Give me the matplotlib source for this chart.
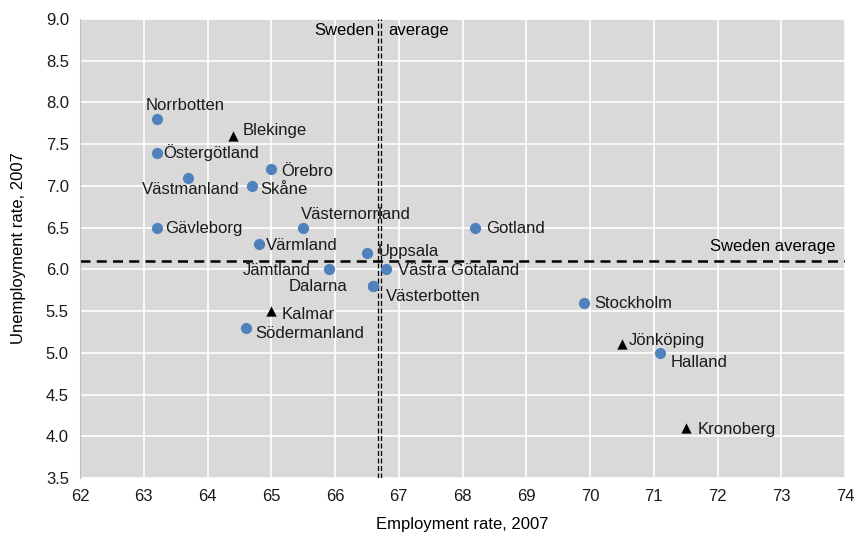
import matplotlib.pyplot as plt

plt.rcParams['font.family'] = ['Liberation Sans', 'DejaVu Sans']

# regions shown with circles
circ_names = ['Norrbotten', 'Östergötland', 'Örebro', 'Västmanland', 'Skåne',
              'Gävleborg', 'Västernorrland', 'Värmland', 'Uppsala', 'Jämtland',
              'Västra Götaland', 'Dalarna', 'Västerbotten', 'Södermanland',
              'Gotland', 'Stockholm', 'Halland']
circ_emp = [63.2, 63.2, 65.0, 63.7, 64.7, 63.2, 65.5, 64.8, 66.5, 65.9,
            66.8, 66.6, 66.6, 64.6, 68.2, 69.9, 71.1]
circ_unemp = [7.8, 7.4, 7.2, 7.1, 7.0, 6.5, 6.5, 6.3, 6.2, 6.0,
              6.0, 5.8, 5.8, 5.3, 6.5, 5.6, 5.0]

# regions shown with triangles
tri_names = ['Blekinge', 'Kalmar', 'Jönköping', 'Kronoberg']
tri_emp = [64.4, 65.0, 70.5, 71.5]
tri_unemp = [7.6, 5.5, 5.1, 4.1]

avg_emp = 66.7
avg_unemp = 6.1

# label offsets in pixels (dx, dy, ha)
offsets = {
    'Norrbotten': (-11, 14, 'left'), 'Östergötland': (7, 0, 'left'),
    'Örebro': (10, -2, 'left'), 'Västmanland': (2, -12, 'center'),
    'Skåne': (8, -4, 'left'), 'Gävleborg': (9, -1, 'left'),
    'Västernorrland': (-2, 13, 'left'), 'Värmland': (7, -1, 'left'),
    'Uppsala': (11, 1, 'left'), 'Jämtland': (-18, -1, 'right'),
    'Västra Götaland': (12, -1, 'left'), 'Dalarna': (-26, 0, 'right'),
    'Västerbotten': (13, -10, 'left'), 'Södermanland': (10, -6, 'left'),
    'Gotland': (11, -1, 'left'), 'Stockholm': (11, -1, 'left'),
    'Halland': (11, -10, 'left'), 'Blekinge': (10, 5, 'left'),
    'Kalmar': (10, -3, 'left'), 'Jönköping': (7, 4, 'left'),
    'Kronoberg': (12, -2, 'left'),
}

fig = plt.figure(figsize=(8.55, 5.33), dpi=100)
ax = fig.add_axes([80 / 855, 1 - 478 / 533, 765 / 855, 459 / 533])
ax.set_facecolor('#D9D9D9')
ax.grid(True, color='white', linewidth=1.2)
ax.set_axisbelow(True)
for s in ax.spines.values():
    s.set_visible(False)
ax.spines['left'].set_visible(True)
ax.spines['left'].set_color('#BFBFBF')
ax.spines['left'].set_linewidth(0.8)

ax.axhline(avg_unemp, color='black', linestyle=(0, (4, 2.5)), linewidth=1.8, zorder=2)
ax.axvline(avg_emp - 0.025, color='black', linestyle=(0, (4, 2)), linewidth=0.9, zorder=2)
ax.axvline(avg_emp + 0.025, color='black', linestyle=(0, (4, 2)), linewidth=0.9, zorder=2)

ax.scatter(circ_emp, circ_unemp, s=65, color='#4F81BD', zorder=3, linewidths=0)
ax.scatter(tri_emp, tri_unemp, s=55, marker='^', color='black', zorder=3, linewidths=0)

fs = 12
for n, x, y in list(zip(circ_names, circ_emp, circ_unemp)) + list(zip(tri_names, tri_emp, tri_unemp)):
    dx, dy, ha = offsets[n]
    ax.annotate(n, (x, y), xytext=(dx, dy), textcoords='offset pixels',
                ha=ha, va='center', fontsize=fs, color='#1a1a1a')

ax.text(73.85, avg_unemp + 0.17, 'Sweden average', ha='right', va='center', fontsize=fs)
ax.text(avg_emp - 0.08, 8.86, 'Sweden', ha='right', va='center', fontsize=fs)
ax.text(avg_emp + 0.13, 8.86, 'average', ha='left', va='center', fontsize=fs)

ax.set_xlim(62, 74)
ax.set_ylim(3.5, 9.0)
ax.set_xticks(range(62, 75))
ax.set_yticks([3.5 + 0.5 * i for i in range(12)])
ax.yaxis.set_major_formatter(plt.FormatStrFormatter('%.1f'))
ax.tick_params(length=0, labelsize=12, pad=8, labelcolor='#1a1a1a')
ax.set_xlabel('Employment rate, 2007', fontsize=12, labelpad=9)
ax.set_ylabel('Unemployment rate, 2007', fontsize=12, labelpad=14)

fig.savefig('out.png', dpi=100)
